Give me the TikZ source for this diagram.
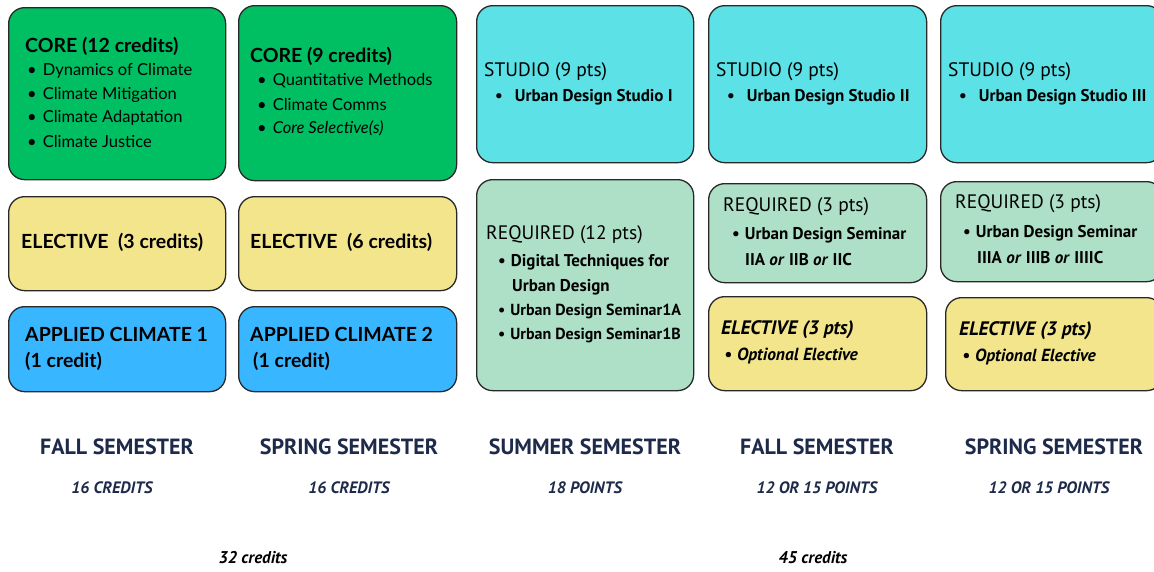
\documentclass[tikz,border=0pt]{standalone}
\usepackage{fontspec}
\setmainfont{Lato}
\newfontfamily\cond{PT Sans}
\definecolor{coreg}{RGB}{0,191,99}
\definecolor{elecy}{RGB}{242,229,140}
\definecolor{applb}{RGB}{56,182,255}
\definecolor{studc}{RGB}{92,225,230}
\definecolor{reqm}{RGB}{174,223,199}
\definecolor{navy}{RGB}{30,42,74}
\definecolor{edge}{RGB}{40,40,40}
\tikzset{
  box/.style={draw=edge, line width=1.3pt, rounded corners=16pt, anchor=north west, inner sep=0pt},
  txt/.style={anchor=west, inner sep=0pt, text=black},
  ttl/.style={txt, font=\fontsize{19.5}{22}\selectfont\bfseries},
  itm/.style={txt, font=\fontsize{16.5}{19}\selectfont},
  cttl/.style={txt, font=\cond\fontsize{19.5}{22}\selectfont},
  citm/.style={txt, font=\cond\fontsize{17}{19}\selectfont\bfseries},
  sitm/.style={txt, font=\cond\fontsize{16}{18}\selectfont\bfseries},
  ettl/.style={txt, font=\cond\fontsize{19.5}{22}\selectfont\bfseries\itshape},
  eitm/.style={txt, font=\cond\fontsize{17.5}{19}\selectfont\bfseries\itshape},
  sem/.style={inner sep=0pt, text=navy, font=\cond\fontsize{22}{24}\selectfont\bfseries},
  pts/.style={inner sep=0pt, text=navy, font=\cond\fontsize{16.5}{18}\selectfont\bfseries\itshape},
  tot/.style={inner sep=0pt, text=black, font=\cond\fontsize{17}{19}\selectfont\bfseries\itshape},
}
\begin{document}
\begin{tikzpicture}[x=1pt,y=-1pt]
\useasboundingbox (0,0) rectangle (1154,571);
\begin{scope}
\clip (0,0) rectangle (1154,571);
% boxes
\node[box, fill=coreg, minimum width=217pt, minimum height=172pt] (c1) at (8,7) {};
\node[box, fill=coreg, minimum width=218pt, minimum height=175pt] (c2) at (238,5) {};
\node[box, fill=elecy, minimum width=217pt, minimum height=94pt] (e1) at (8,196) {};
\node[box, fill=elecy, minimum width=218pt, minimum height=94pt] (e2) at (238,196) {};
\node[box, fill=applb, minimum width=217pt, minimum height=85pt] (a1) at (8,306) {};
\node[box, fill=applb, minimum width=218pt, minimum height=85pt] (a2) at (238,306) {};
\node[box, fill=studc, minimum width=217pt, minimum height=157pt] (s3) at (476,5) {};
\node[box, fill=reqm, minimum width=217pt, minimum height=211pt] (r3) at (476,179) {};
\node[box, fill=studc, minimum width=218pt, minimum height=157pt] (s4) at (708,5) {};
\node[box, fill=reqm, minimum width=218pt, minimum height=99pt] (r4) at (708,183) {};
\node[box, fill=elecy, minimum width=218pt, minimum height=94pt] (e4) at (708,296) {};
\node[box, fill=studc, minimum width=222pt, minimum height=157pt] (s5) at (940,5) {};
\node[box, fill=reqm, minimum width=222pt, minimum height=100pt] (r5) at (940,181) {};
\node[box, fill=elecy, minimum width=217pt, minimum height=93pt] (e5) at (945,297) {};
\end{scope}
% column 1
\node[ttl] (c1t) at (25,46) {CORE (12 credits)};
\node[itm] (c1a) at (27,71) {•\hspace{6pt}Dynamics of Climate};
\node[itm] (c1b) at (27,95) {•\hspace{6pt}Climate Mitigation};
\node[itm] (c1c) at (27,118) {•\hspace{6pt}Climate Adaptation};
\node[itm] (c1d) at (27,141) {•\hspace{6pt}Climate Justice};
\node[ttl] (e1t) at (21,242) {ELECTIVE\ \ (3 credits)};
\node[ttl] (a1t) at (25,334) {APPLIED CLIMATE 1};
\node[ttl] (a1u) at (25,361) {(1 credit)};
% column 2
\node[ttl] (c2t) at (250,56) {CORE (9 credits)};
\node[itm] (c2a) at (257,81) {•\hspace{6pt}Quantitative Methods};
\node[itm] (c2b) at (257,104) {•\hspace{6pt}Climate Comms};
\node[itm] (c2c) at (257,128) {•\hspace{6pt}\textit{Core Selective(s)}};
\node[ttl] (e2t) at (250,242) {ELECTIVE\ \ (6 credits)};
\node[ttl] (a2t) at (250,334) {APPLIED CLIMATE 2};
\node[ttl] (a2u) at (253,361) {(1 credit)};
% column 3
\node[cttl] (s3t) at (484,72) {STUDIO (9 pts)};
\node[citm] (s3a) at (495,97) {•\hspace{12pt}Urban Design Studio I};
\node[cttl] (r3t) at (486,235) {REQUIRED (12 pts)};
\node[citm] (r3a) at (498,262) {•\hspace{5pt}Digital Techniques for};
\node[citm] (r3b) at (512,287) {Urban Design};
\node[sitm] (r3c) at (498,311) {•\hspace{5pt}Urban Design Seminar1A};
\node[sitm] (r3d) at (498,335) {•\hspace{5pt}Urban Design Seminar1B};
% column 4
\node[cttl] (s4t) at (716,72) {STUDIO (9 pts)};
\node[citm] (s4a) at (727,97) {•\hspace{12pt}Urban Design Studio II};
\node[cttl] (r4t) at (723,207) {REQUIRED (3 pts)};
\node[citm] (r4a) at (732,235) {•\hspace{5pt}Urban Design Seminar};
\node[citm] (r4b) at (745,260) {IIA \textit{or} IIB \textit{or} IIC};
\node[ettl] (e4t) at (721,330) {ELECTIVE (3 pts)};
\node[eitm] (e4a) at (724,356) {•\hspace{5pt}Optional Elective};
% column 5
\node[cttl] (s5t) at (948,72) {STUDIO (9 pts)};
\node[citm] (s5a) at (959,97) {•\hspace{12pt}Urban Design Studio III};
\node[cttl] (r5t) at (955,204) {REQUIRED (3 pts)};
\node[citm] (r5a) at (963,233) {•\hspace{5pt}Urban Design Seminar};
\node[citm] (r5b) at (977,258) {IIIA \textit{or} IIIB \textit{or} IIIIC};
\node[ettl] (e5t) at (959,331) {ELECTIVE (3 pts)};
\node[eitm] (e5a) at (962,357) {•\hspace{5pt}Optional Elective};
% bottom labels
\node[sem] (l1) at (117,447) {FALL SEMESTER};
\node[sem] (l2) at (349,447) {SPRING SEMESTER};
\node[sem] (l3) at (585,447) {SUMMER SEMESTER};
\node[sem] (l4) at (817,447) {FALL SEMESTER};
\node[sem] (l5) at (1054,447) {SPRING SEMESTER};
\node[pts] (p1) at (112,488) {16 CREDITS};
\node[pts] (p2) at (349,488) {16 CREDITS};
\node[pts] (p3) at (585,488) {18 POINTS};
\node[pts] (p4) at (817,488) {12 OR 15 POINTS};
\node[pts] (p5) at (1049,488) {12 OR 15 POINTS};
\node[tot] (t1) at (253,558) {32 credits};
\node[tot] (t2) at (813,558) {45 credits};
\end{tikzpicture}
\end{document}
